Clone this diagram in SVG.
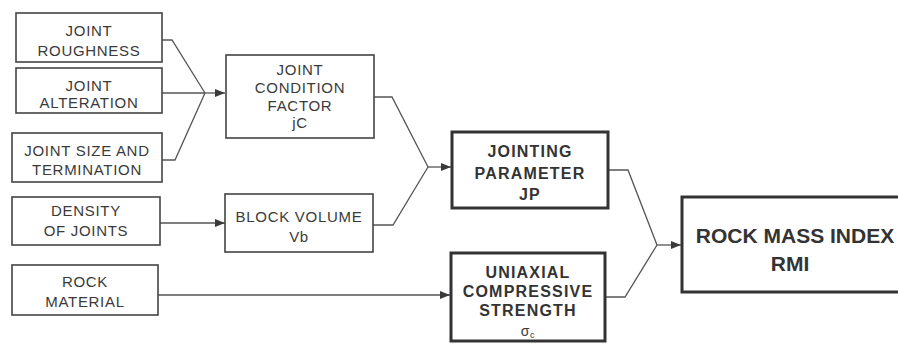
<svg xmlns="http://www.w3.org/2000/svg" width="898" height="344" viewBox="0 0 898 344">
<defs>
<marker id="arr" markerWidth="10" markerHeight="8" refX="10" refY="4" orient="auto" markerUnits="userSpaceOnUse">
<path d="M0,0 L10,4 L0,8 Z" fill="#3a3a3a"/>
</marker>
</defs>
<style>
.box{fill:#fff;stroke:#444;stroke-width:1.6}
.thick{fill:#fff;stroke:#333;stroke-width:3}
.t{font-family:"Liberation Sans",Arial,sans-serif;font-size:15px;fill:#3a3a3a;text-anchor:middle;letter-spacing:0.7px}
.tb{font-family:"Liberation Sans",Arial,sans-serif;font-size:16px;fill:#333;text-anchor:middle;font-weight:bold;letter-spacing:1.2px}
.tr{font-family:"Liberation Sans",Arial,sans-serif;font-size:21px;fill:#333;text-anchor:middle;font-weight:bold}
.c{fill:none;stroke:#555;stroke-width:1.3}
</style>
<rect width="898" height="344" fill="#fff"/>
<g id="connectors">
<polyline class="c" points="162,40 172,40 205,93"/>
<line class="c" x1="162" y1="93" x2="205" y2="93"/>
<polyline class="c" points="162,160 175,160 205,93"/>
<line class="c" x1="205" y1="93" x2="225" y2="93" marker-end="url(#arr)"/>
<line class="c" x1="160" y1="223" x2="225" y2="223" marker-end="url(#arr)"/>
<polyline class="c" points="374,97 392,97 428,167"/>
<polyline class="c" points="373,225 393,225 428,167"/>
<line class="c" x1="428" y1="167" x2="451" y2="167" marker-end="url(#arr)"/>
<line class="c" x1="158" y1="295" x2="450" y2="295" marker-end="url(#arr)"/>
<polyline class="c" points="608,170 628,170 657,245"/>
<polyline class="c" points="605,297 625,297 657,245"/>
<line class="c" x1="657" y1="245" x2="681" y2="245" marker-end="url(#arr)"/>
</g>
<g id="joint-roughness">
<rect class="box" x="16" y="13" width="146" height="49"/>
<text class="t" x="89" y="36">JOINT</text>
<text class="t" x="89" y="56">ROUGHNESS</text>
</g>
<g id="joint-alteration">
<rect class="box" x="16" y="68" width="146" height="45"/>
<text class="t" x="89" y="91">JOINT</text>
<text class="t" x="89" y="108">ALTERATION</text>
</g>
<g id="joint-size">
<rect class="box" x="12" y="133" width="150" height="49"/>
<text class="t" x="87" y="156">JOINT SIZE AND</text>
<text class="t" x="87" y="175">TERMINATION</text>
</g>
<g id="density">
<rect class="box" x="12" y="197" width="148" height="48"/>
<text class="t" x="86" y="216">DENSITY</text>
<text class="t" x="86" y="236">OF JOINTS</text>
</g>
<g id="rock-material">
<rect class="box" x="12" y="265" width="146" height="50"/>
<text class="t" x="85" y="287">ROCK</text>
<text class="t" x="85" y="307">MATERIAL</text>
</g>
<g id="joint-condition">
<rect class="box" x="226" y="55" width="148" height="83"/>
<text class="t" x="300" y="75">JOINT</text>
<text class="t" x="300" y="93">CONDITION</text>
<text class="t" x="300" y="111">FACTOR</text>
<text class="t" x="300" y="128">jC</text>
</g>
<g id="block-volume">
<rect class="box" x="225" y="194" width="148" height="58"/>
<text class="t" x="299" y="222">BLOCK VOLUME</text>
<text class="t" x="299" y="242">Vb</text>
</g>
<g id="jointing-parameter">
<rect class="thick" x="452" y="132" width="156" height="76"/>
<text class="tb" x="530" y="157">JOINTING</text>
<text class="tb" x="530" y="179">PARAMETER</text>
<text class="tb" x="530" y="200">JP</text>
</g>
<g id="ucs">
<rect class="thick" x="451" y="253" width="154" height="88"/>
<text class="tb" x="528" y="278">UNIAXIAL</text>
<text class="tb" x="528" y="297">COMPRESSIVE</text>
<text class="tb" x="528" y="316">STRENGTH</text>
<text class="t" x="528" y="336" style="font-size:14px">σ<tspan font-size="9" dy="2">c</tspan></text>
</g>
<g id="rmi">
<rect class="thick" x="682" y="197" width="230" height="95"/>
<text class="tr" x="795" y="243">ROCK MASS INDEX</text>
<text class="tr" x="790" y="271">RMI</text>
</g>
</svg>
